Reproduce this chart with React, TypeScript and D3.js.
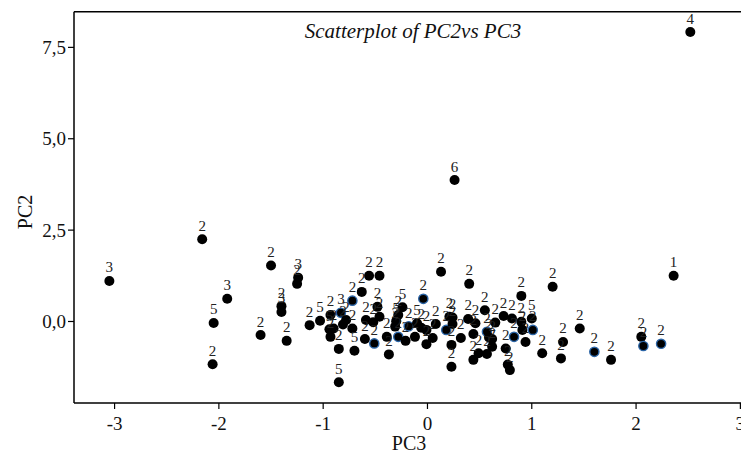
import React from "react";
import * as d3 from "d3";

const pc3: number[] = [
  2.52, 0.26, 2.36, -3.05, -2.16, -1.50, -1.92, -2.05, -2.06, -1.24,
  -1.25, -1.40, -1.40, -1.60, -1.35, -1.13, -1.03, -0.85, -0.85, -0.56,
  -0.46, -0.63, -0.72, -0.83, -0.93, -0.94, -0.90, -0.93, -0.81, -0.78,
  -0.72, -0.70, -0.60, -0.59, -0.52, -0.51, -0.48, -0.46, -0.39, -0.37,
  -0.31, -0.30, -0.28, -0.24, -0.28, -0.21, -0.18, -0.12, -0.10, -0.06,
  -0.01, -0.04, -0.01, 0.13, 0.40, 1.20, 0.90, 0.08, 0.05, 0.18,
  0.21, 0.24, 0.24, 0.23, 0.23, 0.32, 0.39, 0.46, 0.44, 0.49,
  0.44, 0.55, 0.57, 0.59, 0.62, 0.62, 0.57, 0.65, 0.73, 0.81,
  0.90, 0.91, 0.83, 0.94, 0.75, 0.77, 0.79, 1.00, 1.01, 1.10,
  1.30, 1.28, 1.46, 1.60, 1.76, 2.05, 2.07, 2.24,
];

const pc2: number[] = [
  7.92, 3.87, 1.25, 1.11, 2.25, 1.53, 0.62, -0.04, -1.17, 1.20,
  1.03, 0.42, 0.26, -0.37, -0.53, -0.10, 0.02, -1.66, -0.75, 1.25,
  1.25, 0.81, 0.57, 0.24, 0.18, -0.21, -0.19, -0.42, -0.08, 0.04,
  -0.19, -0.80, -0.48, 0.04, -0.02, -0.60, 0.40, 0.13, -0.42, -0.90,
  -0.14, 0.01, 0.18, 0.39, -0.42, -0.53, -0.13, -0.42, -0.05, -0.17,
  -0.23, 0.62, -0.62, 1.36, 1.03, 0.95, 0.70, -0.07, -0.45, -0.23,
  0.13, 0.11, -0.07, -0.64, -1.24, -0.45, 0.07, -0.05, -0.34, -0.87,
  -1.05, 0.31, -0.28, -0.44, -0.48, -0.69, -0.89, -0.03, 0.15, 0.08,
  -0.01, -0.23, -0.42, -0.56, -0.74, -1.18, -1.33, 0.08, -0.23, -0.87,
  -0.56, -1.01, -0.19, -0.83, -1.05, -0.42, -0.67, -0.61,
];

const clusterLabel: string[] = [
  "4", "6", "1", "3", "2", "2", "3", "5", "2", "3",
  "2", "2", "3", "2", "2", "2", "5", "5", "2", "2",
  "2", "2", "2", "3", "2", "5", "2", "2", "2", "2",
  "2", "5", "2", "2", "2", "2", "2", "2", "2", "2",
  "2", "5", "2", "5", "2", "2", "2", "2", "5", "2",
  "2", "2", "2", "2", "2", "2", "2", "2", "2", "2",
  "2", "2", "2", "2", "2", "2", "2", "2", "2", "2",
  "2", "2", "2", "2", "2", "2", "2", "2", "2", "2",
  "2", "2", "2", "2", "2", "2", "2", "5", "2", "2",
  "2", "2", "2", "2", "2", "2", "2", "2",
];

// group "b" points are drawn with a blue ring in the reference
const pointGroup: string[] = [
  "a", "a", "a", "a", "a", "a", "a", "a", "a", "a",
  "a", "a", "a", "a", "a", "a", "a", "a", "a", "a",
  "a", "a", "b", "b", "a", "a", "a", "a", "a", "a",
  "a", "a", "a", "a", "a", "b", "a", "a", "a", "a",
  "a", "a", "a", "a", "b", "a", "b", "a", "a", "a",
  "a", "b", "a", "a", "a", "a", "a", "a", "a", "b",
  "a", "a", "a", "a", "a", "a", "a", "a", "a", "a",
  "a", "a", "b", "a", "a", "a", "a", "a", "a", "a",
  "a", "a", "b", "a", "a", "a", "a", "a", "b", "a",
  "a", "a", "a", "b", "a", "a", "b", "b",
];

const xTicks: number[] = [-3, -2, -1, 0, 1, 2, 3];
const yTicks: number[] = [0, 2.5, 5, 7.5];
const yTickLabels: string[] = ["0,0", "2,5", "5,0", "7,5"];

const titleText = "Scatterplot of PC2vs PC3";
const xTitle = "PC3";
const yTitle = "PC2";

export default function App() {
  const W = 741;
  const H = 458;
  const left = 74;
  const right = 741;
  const top = 11.7;
  const bottom = 403;

  const x = d3.scaleLinear().domain([-3.389, 3.006]).range([left, right]);
  const y = d3.scaleLinear().domain([-2.23, 8.476]).range([bottom, top]);

  const serif = "Times New Roman, Liberation Serif, Times, serif";
  const idx = d3.range(pc3.length);

  return (
    <svg
      width={W}
      height={H}
      fontFamily={serif}
      style={{ position: "absolute", left: 0, top: 0, background: "#fff" }}
    >
      <rect x={0} y={0} width={W} height={H} fill="#fff" />
      <line x1={left} x2={right} y1={top} y2={top} stroke="#000" strokeWidth={1.5} />
      <line x1={left} x2={left} y1={top} y2={bottom} stroke="#000" strokeWidth={1.5} />
      <line x1={left} x2={right} y1={bottom} y2={bottom} stroke="#000" strokeWidth={1.5} />

      {xTicks.map((t) => (
        <g key={"x" + t}>
          <line x1={x(t)} x2={x(t)} y1={bottom} y2={bottom + 6} stroke="#000" strokeWidth={1.2} />
          <text x={x(t)} y={bottom + 27} textAnchor="middle" fontSize={19} fill="#111">
            {String(t)}
          </text>
        </g>
      ))}
      {yTicks.map((t, i) => (
        <g key={"y" + t}>
          <line x1={left - 6} x2={left} y1={y(t)} y2={y(t)} stroke="#000" strokeWidth={1.2} />
          <text x={left - 8} y={y(t) + 6.5} textAnchor="end" fontSize={19} fill="#111">
            {yTickLabels[i]}
          </text>
        </g>
      ))}

      <text x={409} y={450} textAnchor="middle" fontSize={20} fill="#111">
        {xTitle}
      </text>
      <text
        transform={`translate(32,${212}) rotate(-90)`}
        textAnchor="middle"
        fontSize={20}
        fill="#111"
      >
        {yTitle}
      </text>

      <text x={413} y={38} textAnchor="middle" fontSize={21} fontStyle="italic" fill="#111">
        {titleText}
      </text>

      {idx.map((i) => (
        <circle
          key={"p" + i}
          cx={x(pc3[i])}
          cy={y(pc2[i])}
          r={pointGroup[i] === "b" ? 4.6 : 5}
          fill="#000"
          stroke={pointGroup[i] === "b" ? "#2a64a6" : "none"}
          strokeWidth={pointGroup[i] === "b" ? 1.4 : 0}
        />
      ))}
      {idx.map((i) => (
        <text
          key={"l" + i}
          x={x(pc3[i])}
          y={y(pc2[i]) - 8.5}
          textAnchor="middle"
          fontSize={15}
          fill="#222"
        >
          {clusterLabel[i]}
        </text>
      ))}
    </svg>
  );
}
